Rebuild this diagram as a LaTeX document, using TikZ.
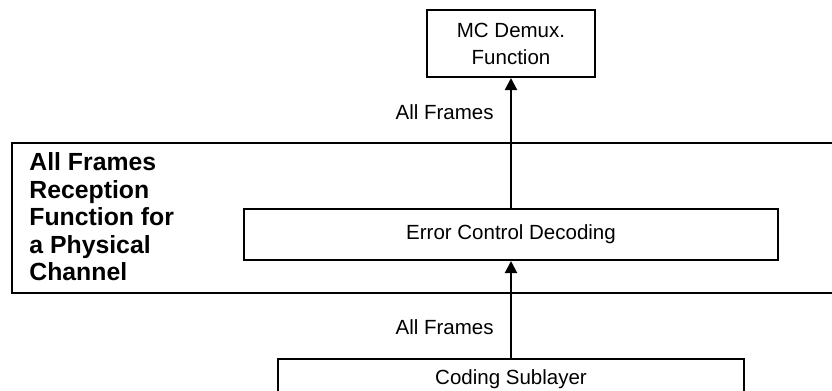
\documentclass[tikz,border=0pt]{standalone}
\usepackage{fontspec}
\setmainfont{Liberation Sans}
\usetikzlibrary{arrows.meta}

\begin{document}
\begin{tikzpicture}[x=0.5pt,y=-0.5pt,
    blk/.style={draw, line width=1pt, inner sep=0pt, align=center,
      font=\fontsize{10.25}{13.5}\selectfont},
    lbl/.style={inner sep=0pt, font=\fontsize{10.25}{13.5}\selectfont},
    flow/.style={line width=1pt, -{Triangle[length=6pt,width=6pt]}}]
  \useasboundingbox (0,0) rectangle (832,391);

  % reception function frame
  \draw[line width=1pt] (12,143) rectangle (850,293);
  \node[anchor=west, align=left, inner sep=0pt,
    font=\fontsize{12.4}{13.75}\selectfont\bfseries] (rxtitle) at (29,217)
    {All Frames\\Reception\\Function for\\a Physical\\Channel};

  % blocks
  \node[blk, minimum width=84pt, minimum height=33.5pt] (demux) at (511,43.5) {MC Demux.\\Function};
  \node[blk, minimum width=267pt, minimum height=25.5pt] (ecd) at (511,234.5) {Error Control Decoding};
  \node[blk, minimum width=233pt, minimum height=20pt] (coding) at (511,379) {Coding Sublayer};

  % flows
  \draw[flow] (coding.north) -- (ecd.south);
  \draw[flow] (ecd.north) -- (demux.south);
  \node[lbl, anchor=east] (frmlow) at (494,327) {All Frames};
  \node[lbl, anchor=east] (frmup) at (494,112) {All Frames};
\end{tikzpicture}
\end{document}
